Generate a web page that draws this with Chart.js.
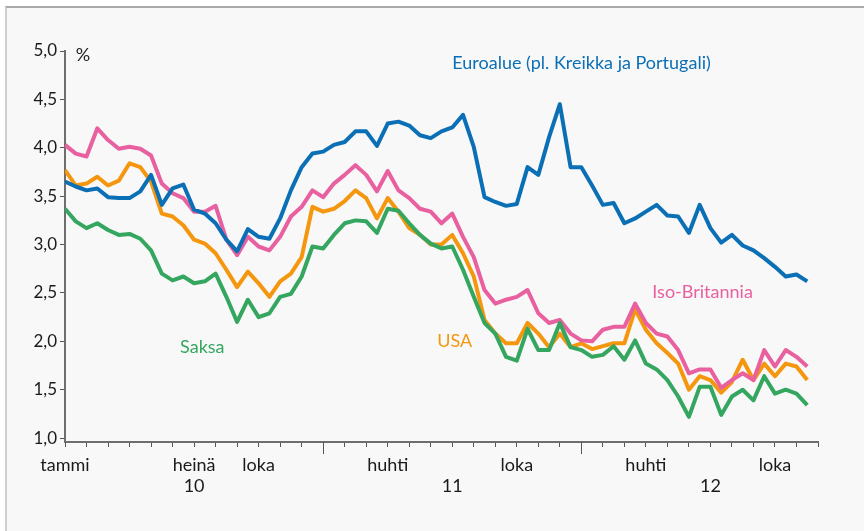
<!DOCTYPE html>
<html>
<head>
<meta charset="utf-8">
<title>Korot</title>
<script src="https://cdn.jsdelivr.net/npm/chart.js@4.4.0/dist/chart.umd.min.js"></script>
<style>
  html, body { margin: 0; padding: 0; background: #fff; }
  #wrap { position: relative; width: 864px; height: 531px; overflow: hidden; }
  #frame { position: absolute; left: 5px; top: 6px; right: 0; bottom: 0; background: #f8f8f8;
           border-top: 2px solid #a9a9a9; border-left: 2px solid #cfcfcf; }
  #chart { position: absolute; left: 0; top: 0; }
</style>
</head>
<body>
<div id="wrap">
  <div id="frame"></div>
  <canvas id="chart" width="864" height="531"></canvas>
</div>
<script>
'use strict';

var debug = false;

// half month steps from tammi 2010 (0) to marras 2012
var months = [];
for (var m = 0; m < 70; m++) {
  months.push(m / 2);
}

var euroalue = [
  3.65, 3.60, 3.56, 3.58, 3.49, 3.48, 3.48, 3.55, 3.72, 3.41, 3.58, 3.62,
  3.36, 3.32, 3.22, 3.05, 2.93, 3.16, 3.08, 3.06, 3.27, 3.56, 3.80, 3.94,
  3.96, 4.03, 4.06, 4.17, 4.17, 4.02, 4.25, 4.27, 4.23, 4.13, 4.10, 4.17,
  4.21, 4.34, 4.01, 3.49, 3.44, 3.40, 3.42, 3.80, 3.72, 4.11, 4.45, 3.80,
  3.80, 3.61, 3.41, 3.43, 3.22, 3.27, 3.34, 3.41, 3.30, 3.29, 3.12, 3.41,
  3.17, 3.02, 3.10, 2.99, 2.94, 2.86, 2.77, 2.67, 2.69, 2.62
];

var isoBritannia = [
  4.03, 3.94, 3.91, 4.20, 4.08, 3.99, 4.01, 3.99, 3.92, 3.63, 3.53, 3.48,
  3.34, 3.34, 3.40, 3.05, 2.89, 3.08, 2.98, 2.94, 3.08, 3.29, 3.39, 3.56,
  3.49, 3.63, 3.72, 3.82, 3.72, 3.55, 3.76, 3.56, 3.48, 3.37, 3.34, 3.22,
  3.32, 3.08, 2.87, 2.53, 2.39, 2.43, 2.46, 2.53, 2.29, 2.19, 2.22, 2.08,
  2.01, 2.00, 2.12, 2.15, 2.15, 2.39, 2.19, 2.08, 2.05, 1.91, 1.67, 1.71,
  1.71, 1.52, 1.60, 1.67, 1.60, 1.91, 1.74, 1.91, 1.84, 1.74
];

var usa = [
  3.77, 3.61, 3.63, 3.70, 3.61, 3.66, 3.84, 3.80, 3.65, 3.32, 3.29, 3.20,
  3.05, 3.01, 2.91, 2.74, 2.56, 2.72, 2.60, 2.46, 2.62, 2.70, 2.87, 3.39,
  3.34, 3.37, 3.45, 3.56, 3.48, 3.27, 3.48, 3.34, 3.17, 3.10, 3.00, 3.00,
  3.10, 2.91, 2.67, 2.22, 2.08, 1.98, 1.98, 2.19, 2.08, 1.94, 2.08, 1.94,
  1.98, 1.92, 1.95, 1.98, 1.98, 2.33, 2.12, 1.98, 1.88, 1.77, 1.50, 1.64,
  1.60, 1.47, 1.58, 1.81, 1.60, 1.77, 1.64, 1.77, 1.74, 1.60
];

var saksa = [
  3.37, 3.24, 3.17, 3.22, 3.15, 3.10, 3.11, 3.06, 2.94, 2.70, 2.63, 2.67,
  2.60, 2.62, 2.70, 2.46, 2.20, 2.43, 2.25, 2.29, 2.46, 2.49, 2.67, 2.98,
  2.96, 3.10, 3.22, 3.25, 3.24, 3.12, 3.37, 3.35, 3.22, 3.10, 3.01, 2.96,
  2.98, 2.74, 2.46, 2.19, 2.08, 1.84, 1.80, 2.13, 1.91, 1.91, 2.19, 1.94,
  1.91, 1.84, 1.86, 1.95, 1.81, 2.01, 1.77, 1.71, 1.60, 1.43, 1.22, 1.53,
  1.53, 1.24, 1.43, 1.50, 1.39, 1.64, 1.46, 1.50, 1.46, 1.34
];

var yTicks = [1.0, 1.5, 2.0, 2.5, 3.0, 3.5, 4.0, 4.5, 5.0];
var monthLabels = { 0: 'tammi', 6: 'heinä', 9: 'loka', 15: 'huhti', 21: 'loka', 27: 'huhti', 33: 'loka' };
var yearLabels = { 6: '10', 18: '11', 30: '12' };
var yearStarts = [12, 24];

var colors = {
  euro: '#0b6fb5',
  uk: '#e8609f',
  usa: '#f5960f',
  de: '#35a660'
};

function points(values) {
  var out = [];
  for (var i = 0; i < values.length; i++) {
    out.push({ x: months[i], y: values[i] });
  }
  return out;
}

function series(label, values, color) {
  return {
    label: label,
    data: points(values),
    borderColor: color,
    borderWidth: 4,
    borderJoinStyle: 'round',
    pointRadius: 0,
    tension: 0,
    fill: false
  };
}

// texts placed in data units so they follow the scales
var seriesTexts = [
  { text: 'Euroalue (pl. Kreikka ja Portugali)', x: 18.0, y: 4.87, color: colors.euro },
  { text: 'Iso-Britannia', x: 27.3, y: 2.51, color: colors.uk },
  { text: 'USA', x: 17.3, y: 2.00, color: colors.usa },
  { text: 'Saksa', x: 5.35, y: 1.94, color: colors.de },
  { text: '%', x: 0.5, y: 4.96, color: '#222' }
];

var textPlugin = {
  id: 'seriesTexts',
  afterDatasetsDraw: function(chart) {
    var ctx = chart.ctx;
    ctx.save();
    ctx.font = '18px Lato, "Open Sans", sans-serif';
    ctx.textBaseline = 'middle';
    ctx.textAlign = 'left';
    seriesTexts.forEach(function(t) {
      ctx.fillStyle = t.color;
      ctx.fillText(t.text, chart.scales.x.getPixelForValue(t.x), chart.scales.y.getPixelForValue(t.y));
    });
    ctx.restore();
  }
};

// longer tick at each new year
var yearTickPlugin = {
  id: 'yearTicks',
  afterDraw: function(chart) {
    var ctx = chart.ctx;
    var bottom = chart.chartArea.bottom;
    ctx.save();
    ctx.strokeStyle = '#555';
    ctx.lineWidth = 1;
    yearStarts.forEach(function(v) {
      var x = Math.round(chart.scales.x.getPixelForValue(v)) + 0.5;
      ctx.beginPath();
      ctx.moveTo(x, bottom);
      ctx.lineTo(x, bottom + 12);
      ctx.stroke();
    });
    ctx.restore();
  }
};

Chart.defaults.font.family = 'Lato, "Open Sans", sans-serif';
Chart.defaults.color = '#1a1a1a';

var ctx = document.getElementById('chart').getContext('2d');
if (debug) { console.log('drawing chart'); }
new Chart(ctx, {
  type: 'line',
  data: {
    datasets: [
      series('Euroalue (pl. Kreikka ja Portugali)', euroalue, colors.euro),
      series('Saksa', saksa, colors.de),
      series('Iso-Britannia', isoBritannia, colors.uk),
      series('USA', usa, colors.usa)
    ]
  },
  options: {
    responsive: false,
    animation: false,
    layout: { padding: { left: 0, right: 46, top: 51, bottom: 29 } },
    plugins: {
      legend: { display: false },
      tooltip: { enabled: false }
    },
    scales: {
      x: {
        type: 'linear',
        min: 0,
        max: 35,
        afterBuildTicks: function(scale) {
          var t = [];
          for (var i = 0; i <= 35; i++) { t.push({ value: i }); }
          scale.ticks = t;
        },
        afterFit: function(scale) { scale.height = 60; },
        ticks: {
          autoSkip: false,
          maxRotation: 0,
          padding: 7,
          font: { size: 18 },
          callback: function(v) {
            var top = monthLabels[v] || '';
            if (yearLabels[v]) { return [top, yearLabels[v]]; }
            return top;
          }
        },
        grid: { drawOnChartArea: false, tickLength: 5, color: '#555', lineWidth: 1 },
        border: { color: '#6e6e6e', width: 2 }
      },
      y: {
        min: 0.96,
        max: 5.0,
        afterBuildTicks: function(scale) {
          scale.ticks = yTicks.map(function(v) { return { value: v }; });
        },
        afterFit: function(scale) { scale.width = 65; },
        ticks: {
          padding: 3,
          font: { size: 17 },
          callback: function(v) { return v.toFixed(1).replace('.', ','); }
        },
        grid: { drawOnChartArea: false, tickLength: 5, color: '#555', lineWidth: 1 },
        border: { color: '#6e6e6e', width: 2 }
      }
    }
  },
  plugins: [textPlugin, yearTickPlugin]
});
</script>
</body>
</html>
